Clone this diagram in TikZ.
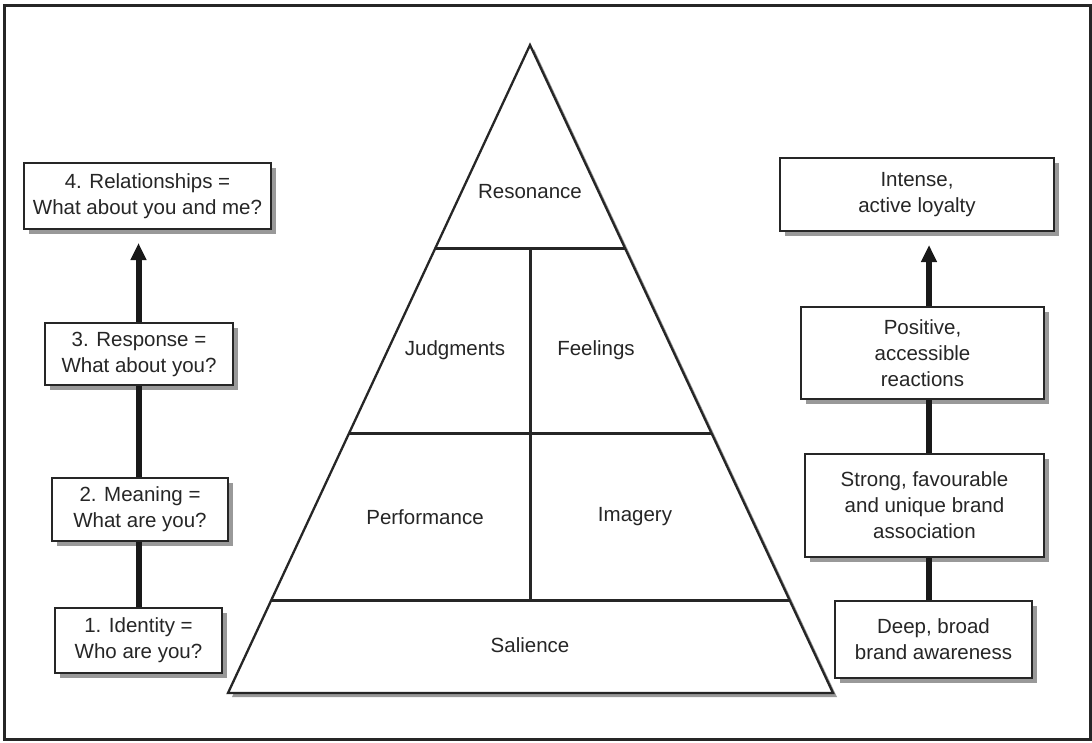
\documentclass[tikz,border=0pt]{standalone}
\usepackage{fontspec}
\setmainfont{Liberation Sans}
\usetikzlibrary{arrows.meta,shadows,calc}
\begin{document}
\begin{tikzpicture}[x=1pt,y=-1pt,
  box/.style={draw=black!85, line width=2pt, fill=white, align=center, inner sep=0pt,
    font=\fontsize{20.5}{26}\selectfont, text=black!85,
    drop shadow={shadow xshift=4.5pt, shadow yshift=-4.5pt, fill=black!40, opacity=1}},
  spine/.style={line width=6pt, draw=black!90},
  arrowspine/.style={spine, -{Triangle[width=15pt,length=17pt]}, shorten >=13pt},
  lab/.style={font=\fontsize{20.5}{26}\selectfont, text=black!85},
  divider/.style={line width=3pt, draw=black!85}
]
\useasboundingbox (0,0) rectangle (1092,742);
\draw[line width=3pt, draw=black!85] (4,5) rectangle (1090,739);

% pyramid
\coordinate (apex) at (530,45);
\coordinate (bl) at (228,693);
\coordinate (br) at (833,693);
\fill[black!40] ($(apex)+(4,4)$) -- ($(bl)+(4,4)$) -- ($(br)+(4,4)$) -- cycle;
\draw[line width=2.3pt, draw=black!85, fill=white, line join=miter] (apex) -- (bl) -- (br) -- cycle;
\coordinate (l1) at ($(apex)!0.3133!(bl)$);
\coordinate (r1) at ($(apex)!0.3133!(br)$);
\coordinate (l2) at ($(apex)!0.5988!(bl)$);
\coordinate (r2) at ($(apex)!0.5988!(br)$);
\coordinate (l3) at ($(apex)!0.8565!(bl)$);
\coordinate (r3) at ($(apex)!0.8565!(br)$);
\coordinate (mtop) at (530,248);
\coordinate (mbot) at (530,600);
\draw[divider] (l1) -- (r1);
\draw[divider] (l2) -- (r2);
\draw[divider] (l3) -- (r3);
\draw[divider] (mtop) -- (mbot);

\node[lab] (res) at (530,192) {Resonance};
\node[lab] (jud) at (455,350) {Judgments};
\node[lab] (fee) at (596,350) {Feelings};
\node[lab] (per) at (425,517) {Performance};
\node[lab] (ima) at (635,517) {Imagery};
\node[lab] (sal) at (530,645) {Salience};

% left boxes
\node[box, minimum width=247pt, minimum height=66pt] (L4) at (147.5,196) {4. Relationships =\\What about you and me?};
\node[box, minimum width=188pt, minimum height=62pt] (L3) at (139,354) {3. Response =\\What about you?};
\node[box, minimum width=176pt, minimum height=63pt] (L2) at (140,509.5) {2. Meaning =\\What are you?};
\node[box, minimum width=167pt, minimum height=65pt] (L1) at (138.5,640.5) {1. Identity =\\Who are you?};

\coordinate (lx) at (138.5,0);
\draw[spine] (lx |- L1.north) -- (lx |- L2.south);
\draw[spine] (lx |- L2.north) -- (lx |- L3.south);
\draw[arrowspine] (lx |- L3.north) -- (lx |- L4.south);

% right boxes
\node[box, minimum width=274pt, minimum height=73pt] (R4) at (917,194.5) {Intense,\\active loyalty};
\node[box, minimum width=243pt, minimum height=92pt] (R3) at (922.5,353) {Positive,\\accessible\\reactions};
\node[box, minimum width=239pt, minimum height=103pt] (R2) at (924.5,505.5) {Strong, favourable\\and unique brand\\association};
\node[box, minimum width=197pt, minimum height=77pt] (R1) at (933.5,639.5) {Deep, broad\\brand awareness};

\coordinate (rx) at (929,0);
\draw[spine] (rx |- R1.north) -- (rx |- R2.south);
\draw[spine] (rx |- R2.north) -- (rx |- R3.south);
\draw[arrowspine] (rx |- R3.north) -- (rx |- R4.south);
\end{tikzpicture}
\end{document}
